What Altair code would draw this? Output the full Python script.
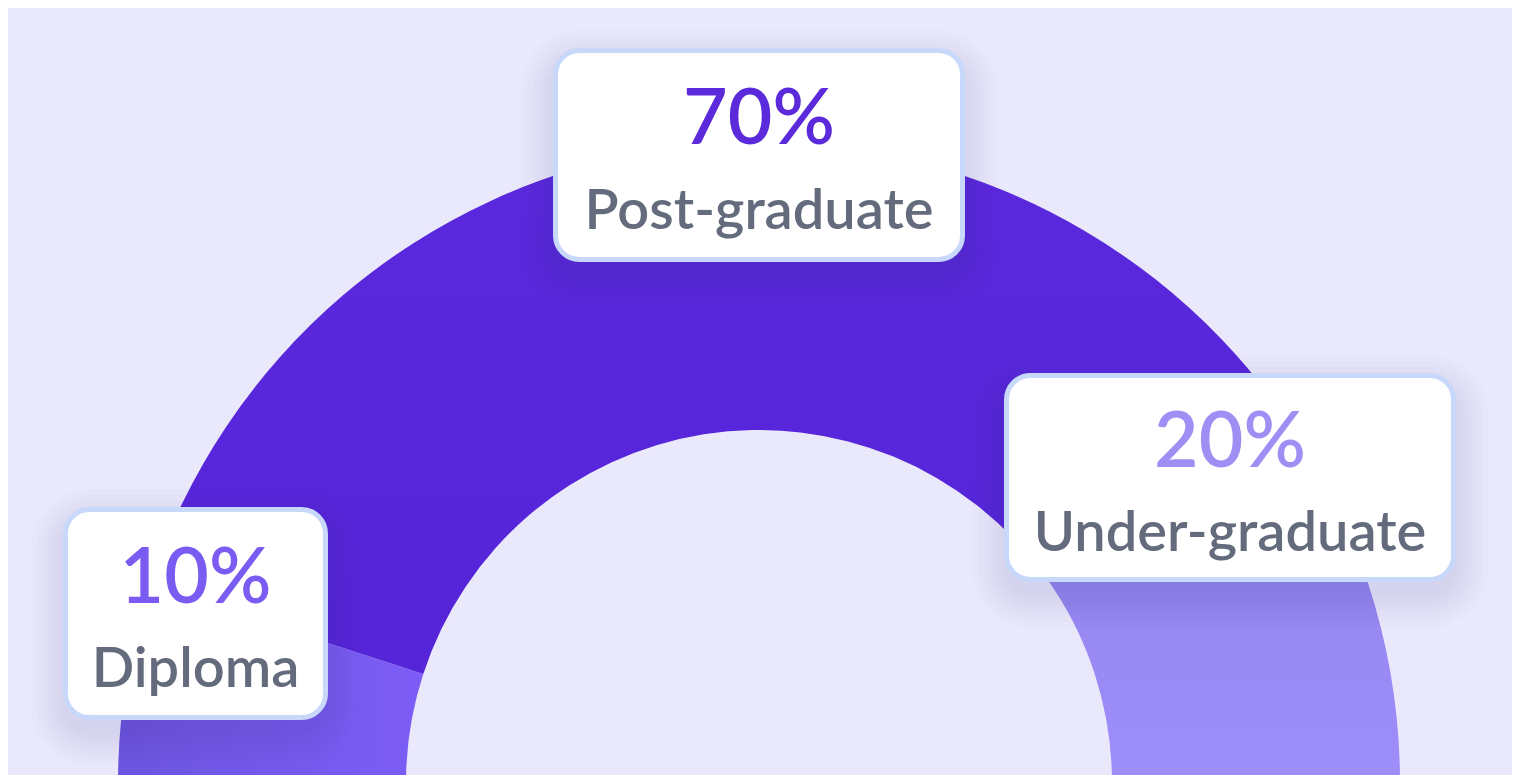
import math
import altair as alt
import pandas as pd

# ---- data ----
categories = ["Diploma", "Post-graduate", "Under-graduate"]
shares = [10, 70, 20]
order = [0, 1, 2]

# ---- layout (page pixels) for the label cards ----
OFF = 8
card_cx = [195.5, 759, 1230]
card_cy = [613.5, 155, 477.5]
card_w = [265, 412, 452]
card_h = [213, 214, 209]
CENTER_X, CENTER_Y = 759 - OFF, 783 - OFF
R_OUT, R_IN = 641, 353

# ---- styles ----
pct_colors = ["#7B5CF2", "#5B2ADB", "#A08EF4"]
label_gray = "#646B7D"
bg = "#EAE8FB"


def grad(c1, c2, horizontal=False):
    return alt.LinearGradient(
        gradient="linear",
        stops=[alt.GradientStop(color=c1, offset=0), alt.GradientStop(color=c2, offset=1)],
        x1=0, y1=0, x2=1 if horizontal else 0, y2=0 if horizontal else 1,
    )


arc_fill = {
    "Diploma": grad("#6C55E0", "#7C5DF6", horizontal=True),
    "Post-graduate": grad("#5A28DD", "#5624D8"),
    "Under-graduate": grad("#9080E8", "#9E8EFA"),
}

df = pd.DataFrame({
    "category": categories,
    "share": shares,
    "order": order,
    "cx": [c - OFF for c in card_cx],
    "cy": [c - OFF for c in card_cy],
    "w": card_w,
    "h": card_h,
})

base = alt.Chart(df)
theta_scale = alt.Scale(domain=[0, 100], range=[-math.pi / 2, math.pi / 2])

arc_base = base.transform_window(
    cum="sum(share)", sort=[alt.SortField("order")]
).transform_calculate(start="datum.cum - datum.share")

arcs = []
for cat in categories:
    arcs.append(
        arc_base.transform_filter(alt.datum.category == cat)
        .mark_arc(radius=R_OUT, radius2=R_IN, color=arc_fill[cat])
        .encode(
            theta=alt.Theta("start:Q", scale=theta_scale),
            theta2="cum:Q",
            x=alt.value(CENTER_X),
            y=alt.value(CENTER_Y),
        )
    )

# soft shadows
shadows = []
for e in [0, 5, 10, 15, 20, 26, 32]:
    dy = 14
    shadows.append(
        base.transform_calculate(
            x1=f"datum.cx - datum.w/2 - {e}",
            x2=f"datum.cx + datum.w/2 + {e}",
            y1=f"datum.cy - datum.h/2 - {e} + {dy}",
            y2=f"datum.cy + datum.h/2 + {e} + {dy}",
        )
        .mark_rect(color="#50548F", opacity=0.014, cornerRadius=28 + e)
        .encode(
            x=alt.X("x1:Q", scale=None),
            x2="x2:Q",
            y=alt.Y("y1:Q", scale=None),
            y2="y2:Q",
        )
    )

cards = base.transform_calculate(
    x1="datum.cx - datum.w/2 + 2.5",
    x2="datum.cx + datum.w/2 - 2.5",
    y1="datum.cy - datum.h/2 + 2.5",
    y2="datum.cy + datum.h/2 - 2.5",
).mark_rect(
    color="white", stroke="#C8D8FA", strokeWidth=5, cornerRadius=24
).encode(
    x=alt.X("x1:Q", scale=None),
    x2="x2:Q",
    y=alt.Y("y1:Q", scale=None),
    y2="y2:Q",
)

pct = base.transform_calculate(
    pct="format(datum.share, 'd') + '%'", ty="datum.cy - 11"
).mark_text(
    font="Lato", fontSize=77, fontWeight=600, align="center", baseline="alphabetic"
).encode(
    x=alt.X("cx:Q", scale=None),
    y=alt.Y("ty:Q", scale=None),
    text="pct:N",
    color=alt.Color("category:N", scale=alt.Scale(domain=categories, range=pct_colors), legend=None),
)

lab = base.transform_calculate(ty="datum.cy + 73.5").mark_text(
    font="Lato", fontSize=56, fontWeight=600, align="center", baseline="alphabetic", color=label_gray
).encode(
    x=alt.X("cx:Q", scale=None),
    y=alt.Y("ty:Q", scale=None),
    text="category:N",
)

chart = alt.layer(*arcs, *shadows, cards, pct, lab).properties(
    width=1504,
    height=767,
    padding=0,
    autosize=alt.AutoSizeParams(type="none"),
    background=bg,
).configure_view(stroke=None)

chart.save("out.html", embed_options={"renderer": "svg", "actions": False})
